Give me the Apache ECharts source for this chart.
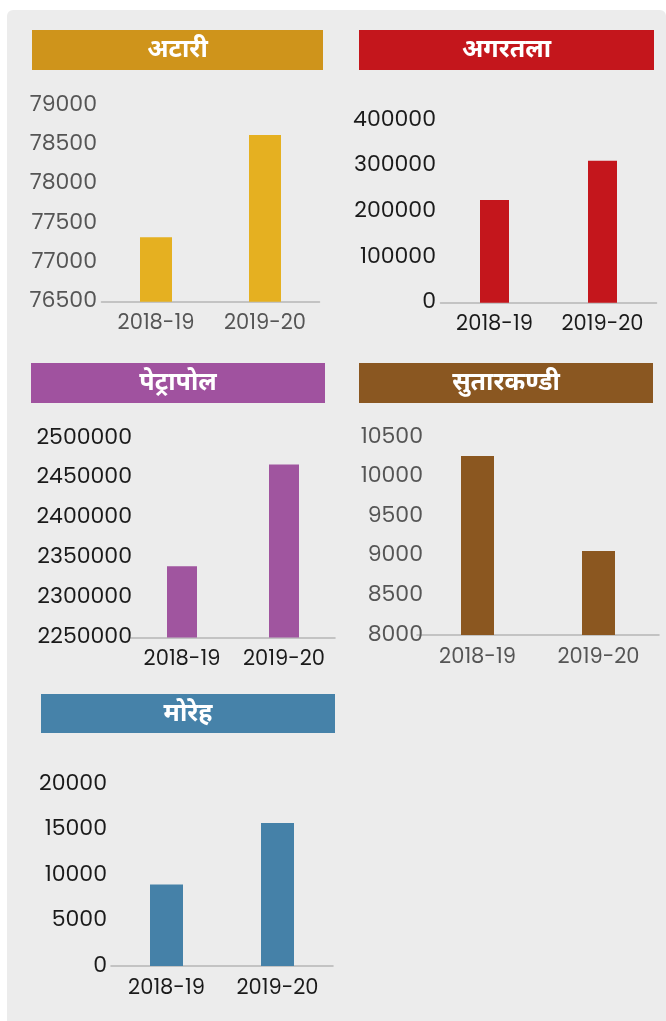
<!DOCTYPE html>
<html>
<head>
<meta charset="utf-8">
<script src="https://cdn.jsdelivr.net/npm/echarts@6/dist/echarts.min.js"></script>
<style>
  html, body { margin: 0; padding: 0; background: #fff; }
  #panel { position: absolute; left: 7px; top: 10px; width: 659px; height: 1011px;
           background: #ececec; border-radius: 6px 6px 0 0; }
  #chart { position: absolute; left: 0; top: 0; width: 666px; height: 1021px; }
</style>
</head>
<body>
<div id="panel"></div>
<div id="chart"></div>
<script>
// Données
const categories = ["2018-19", "2019-20"];
const titles = ["अटारी", "अगरतला", "पेट्रापोल", "सुतारकण्डी", "मोरेह"];
const attariValues = [77320, 78620];
const agartalaValues = [225000, 311000];
const petrapoleValues = [2339400, 2466900];
const sutarkandiValues = [10260, 9060];
const morehValues = [8950, 15720];
const axisMin = [76500, 0, 2250000, 8000, 0];
const axisMax = [79000, 400000, 2500000, 10500, 20000];
const axisStep = [500, 100000, 50000, 500, 5000];

const allValues = [attariValues, agartalaValues, petrapoleValues, sutarkandiValues, morehValues];

// Mise en page de chaque petit graphique
const layout = [
  { grid: { left: 101.5, width: 218, top: 105, height: 196.7 }, labelMargin: 4.5, barWidth: 32,
    banner: { x: 32, y: 30, w: 291, h: 40 }, banColor: "#cf941b", barColor: "#e5b021", label: "#555555" },
  { grid: { left: 440.5, width: 216, top: 120, height: 182.7 }, labelMargin: 4.5, barWidth: 29,
    banner: { x: 359, y: 30, w: 295, h: 40 }, banColor: "#c4161c", barColor: "#c4161c", label: "#1a1a1a" },
  { grid: { left: 131, width: 204, top: 438, height: 199.5 }, labelMargin: -1, barWidth: 30,
    banner: { x: 31, y: 363, w: 294, h: 40 }, banColor: "#a0529f", barColor: "#a0559f", label: "#1a1a1a" },
  { grid: { left: 417, width: 242, top: 437, height: 198 }, labelMargin: -6, barWidth: 33,
    banner: { x: 359, y: 363, w: 294, h: 40 }, banColor: "#8a5721", barColor: "#8b5720", label: "#555555" },
  { grid: { left: 111, width: 222, top: 784, height: 182 }, labelMargin: 4, barWidth: 33,
    banner: { x: 41, y: 694, w: 294, h: 39 }, banColor: "#4682a9", barColor: "#4581a8", label: "#1a1a1a" }
];

const font = "Poppins, Inter, 'Noto Sans', sans-serif";

const grids = [], xAxes = [], yAxes = [], series = [], graphics = [];

layout.forEach((l, i) => {
  grids.push(l.grid);
  xAxes.push({
    type: "category",
    gridIndex: i,
    data: categories,
    axisTick: { show: false },
    axisLine: { lineStyle: { color: "#b5b5b5", width: 1.5 } },
    axisLabel: { color: l.label, fontSize: 21, fontFamily: font, margin: 12, interval: 0, hideOverlap: false }
  });
  yAxes.push({
    type: "value",
    gridIndex: i,
    min: axisMin[i],
    max: axisMax[i],
    interval: axisStep[i],
    splitLine: { show: false },
    axisLine: { show: false },
    axisTick: { show: false },
    axisLabel: {
      color: l.label, fontSize: 22, fontFamily: font, margin: l.labelMargin,
      formatter: (v) => String(v)
    }
  });
  series.push({
    type: "bar",
    xAxisIndex: i,
    yAxisIndex: i,
    data: allValues[i],
    barWidth: l.barWidth,
    itemStyle: { color: l.barColor },
    silent: true
  });
  graphics.push({
    type: "rect",
    shape: { x: l.banner.x, y: l.banner.y, width: l.banner.w, height: l.banner.h },
    style: { fill: l.banColor }
  });
  graphics.push({
    type: "text",
    x: l.banner.x + l.banner.w / 2,
    y: l.banner.y + l.banner.h / 2,
    style: {
      text: titles[i],
      fill: "#fff",
      font: "bold 25px 'Noto Sans', sans-serif",
      textAlign: "center",
      textVerticalAlign: "middle"
    }
  });
});

const chart = echarts.init(document.getElementById("chart"));
chart.setOption({
  animation: false,
  grid: grids,
  xAxis: xAxes,
  yAxis: yAxes,
  series: series,
  graphic: graphics
});
</script>
</body>
</html>
